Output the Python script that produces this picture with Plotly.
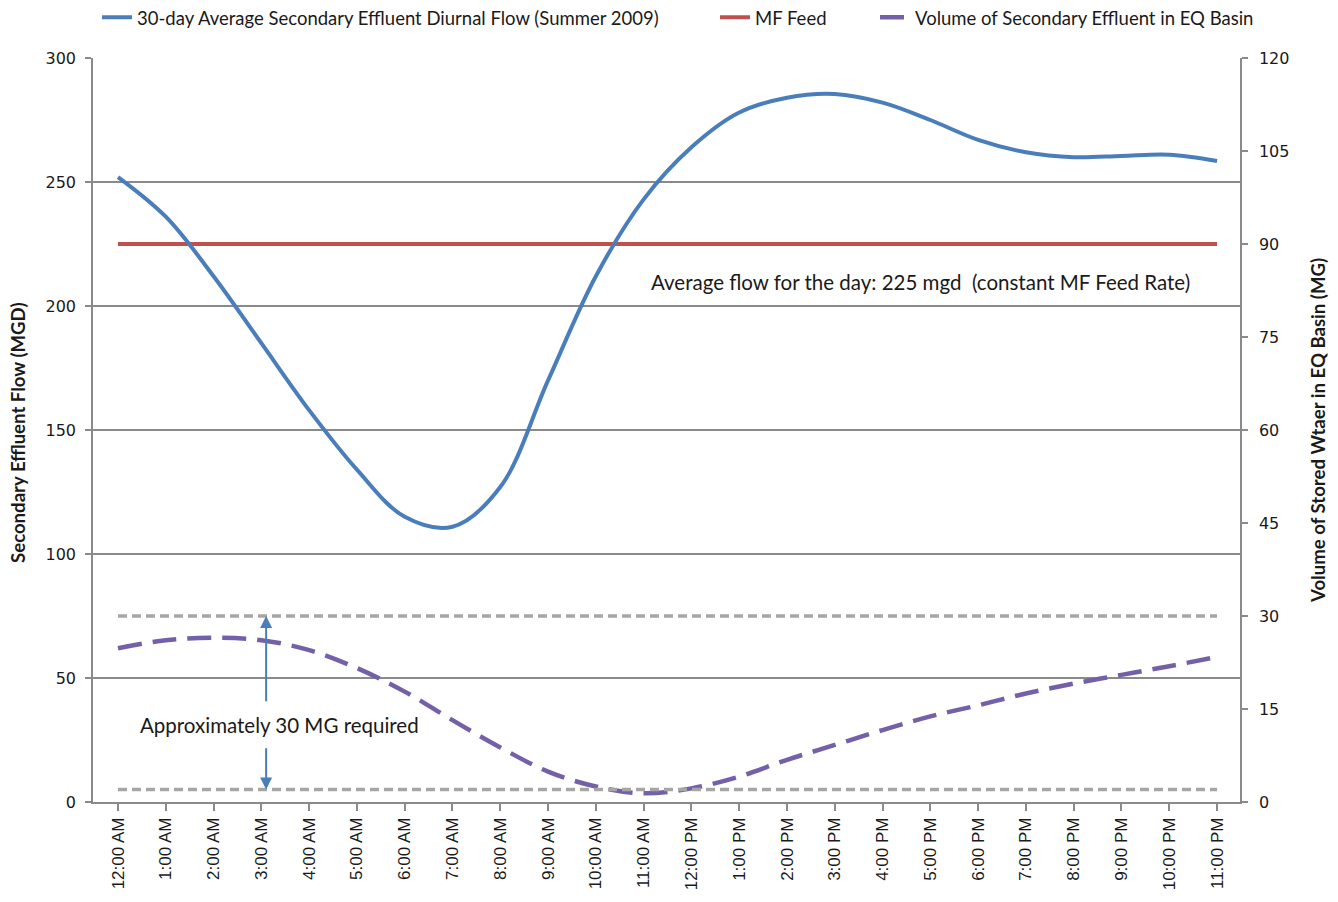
import plotly.graph_objects as go

# ---------------- data ----------------
hours = ["12:00 AM", "1:00 AM", "2:00 AM", "3:00 AM", "4:00 AM", "5:00 AM",
         "6:00 AM", "7:00 AM", "8:00 AM", "9:00 AM", "10:00 AM", "11:00 AM",
         "12:00 PM", "1:00 PM", "2:00 PM", "3:00 PM", "4:00 PM", "5:00 PM",
         "6:00 PM", "7:00 PM", "8:00 PM", "9:00 PM", "10:00 PM", "11:00 PM"]
hour_index = list(range(len(hours)))

diurnal_flow_mgd = [252, 236, 212, 185, 158, 134, 115, 111, 127, 170, 212, 243,
                    264, 278, 284, 285.5, 282, 275, 267, 262, 260, 260.5, 261, 258.5]

mf_feed_mgd = [225, 225, 225, 225, 225, 225, 225, 225, 225, 225, 225, 225,
               225, 225, 225, 225, 225, 225, 225, 225, 225, 225, 225, 225]

eq_volume_mg = [24.8, 26.1, 26.5, 26.1, 24.5, 21.6, 17.8, 13.2, 8.8, 4.9, 2.5, 1.4,
                2.2, 4.1, 6.8, 9.2, 11.6, 13.8, 15.6, 17.5, 19.1, 20.5, 21.9, 23.4]

required_top_mg = [30, 30, 30, 30, 30, 30, 30, 30, 30, 30, 30, 30,
                   30, 30, 30, 30, 30, 30, 30, 30, 30, 30, 30, 30]
required_bottom_mg = [2, 2, 2, 2, 2, 2, 2, 2, 2, 2, 2, 2,
                      2, 2, 2, 2, 2, 2, 2, 2, 2, 2, 2, 2]

left_ticks = [0, 50, 100, 150, 200, 250, 300]
right_ticks = [0, 15, 30, 45, 60, 75, 90, 105, 120]

# ---------------- styling ----------------
TXT = "Lato"
TICKFONT = "DejaVu Sans"
DARK = "#1a1a1a"
AXIS_GRAY = "#8a8a8a"

fig = go.Figure()

fig.add_trace(go.Scatter(x=hour_index, y=mf_feed_mgd, mode="lines", name="MF Feed",
                         line=dict(color="#C0504D", width=4), legend="legend2"))
fig.add_trace(go.Scatter(x=hour_index, y=diurnal_flow_mgd, mode="lines",
                         name="30-day Average Secondary Effluent Diurnal Flow (Summer 2009)",
                         line=dict(color="#4A7EBB", width=4, shape="spline", smoothing=1.0),
                         legend="legend"))
fig.add_trace(go.Scatter(x=hour_index, y=eq_volume_mg, mode="lines", yaxis="y2",
                         name="Volume of Secondary Effluent in EQ Basin",
                         line=dict(color="#7460A8", width=4.5, dash="24px,11px",
                                   shape="spline", smoothing=1.0),
                         legend="legend3"))
fig.add_trace(go.Scatter(x=hour_index, y=required_top_mg, mode="lines", yaxis="y2",
                         showlegend=False, hoverinfo="skip",
                         line=dict(color="#A6A6A6", width=3.5, dash="9px,5px")))
fig.add_trace(go.Scatter(x=hour_index, y=required_bottom_mg, mode="lines", yaxis="y2",
                         showlegend=False, hoverinfo="skip",
                         line=dict(color="#A6A6A6", width=3.5, dash="9px,5px")))

annotations = [
    # double-headed arrow, split by the label
    dict(x=3.1, y=required_top_mg[0], xref="x", yref="y2", ax=3.1, ay=16.0,
         axref="x", ayref="y2", showarrow=True, arrowhead=2, arrowsize=1.2,
         arrowwidth=2, arrowcolor="#4A7EBB", text=""),
    dict(x=3.1, y=required_bottom_mg[0], xref="x", yref="y2", ax=3.1, ay=8.9,
         axref="x", ayref="y2", showarrow=True, arrowhead=2, arrowsize=1.2,
         arrowwidth=2, arrowcolor="#4A7EBB", text=""),
    dict(x=3.37, y=12.4, xref="x", yref="y2", showarrow=False,
         text="Approximately 30 MG required", font=dict(family=TXT, size=20.5, color=DARK)),
    dict(x=16.8, y=209.5, xref="x", yref="y", showarrow=False,
         text="Average flow for the day: 225 mgd&nbsp;&nbsp;(constant MF Feed Rate)",
         font=dict(family=TXT, size=20.5, color=DARK)),
    # axis titles
    dict(x=-0.0654, y=0.496, xref="paper", yref="paper", showarrow=False, textangle=-90,
         xanchor="center", yanchor="middle",
         text="<b>Secondary Effluent Flow (MGD)</b>", font=dict(family=TXT, size=18.6, color=DARK)),
    dict(x=1.068, y=0.5, xref="paper", yref="paper", showarrow=False, textangle=-90,
         xanchor="center", yanchor="middle",
         text="<b>Volume of Stored Wtaer in EQ Basin (MG)</b>", font=dict(family=TXT, size=18.6, color=DARK)),
]

legend_common = dict(orientation="h", y=1.054, yanchor="middle", xanchor="left",
                     font=dict(family=TXT, size=18.5, color=DARK), bgcolor="rgba(0,0,0,0)")

fig.update_layout(
    # page body adds an 8px margin, so the figure is 8px smaller each way
    width=1330, height=894,
    margin=dict(l=85, r=98, t=50, b=100, autoexpand=False),
    paper_bgcolor="white", plot_bgcolor="white",
    showlegend=True,
    legend=dict(x=0.0035, **legend_common),
    legend2=dict(x=0.5423, **legend_common),
    legend3=dict(x=0.6818, **legend_common),
    annotations=annotations,
    xaxis=dict(range=[-0.523, 23.48], tickmode="array", tickvals=hour_index, ticktext=hours,
               tickangle=-90, tickfont=dict(family="Liberation Sans", size=17, color=DARK),
               ticks="outside", ticklen=7, tickcolor=AXIS_GRAY, tickwidth=1.5,
               showline=True, linecolor=AXIS_GRAY, linewidth=1.5,
               showgrid=False, zeroline=False, automargin=False),
    yaxis=dict(range=[0, 300], tickmode="array", tickvals=left_ticks,
               tickfont=dict(family=TICKFONT, size=16, color=DARK),
               ticks="outside", ticklen=6, tickcolor=AXIS_GRAY, tickwidth=1.5,
               ticklabelstandoff=6, automargin=False,
               showline=True, linecolor=AXIS_GRAY, linewidth=1.5,
               showgrid=True, gridcolor=AXIS_GRAY, gridwidth=1.5, zeroline=False),
    yaxis2=dict(range=[0, 120], tickmode="array", tickvals=right_ticks, overlaying="y",
                side="right", tickfont=dict(family=TICKFONT, size=16, color=DARK),
                ticks="outside", ticklen=6, tickcolor=AXIS_GRAY, tickwidth=1.5,
                ticklabelstandoff=8, automargin=False,
                showline=True, linecolor=AXIS_GRAY, linewidth=1.5,
                showgrid=False, zeroline=False),
)

fig.write_html("out.html")
